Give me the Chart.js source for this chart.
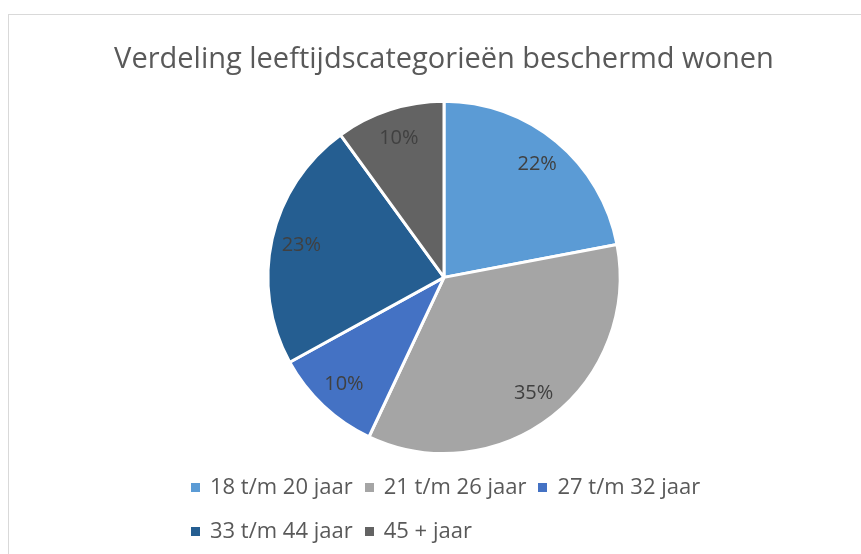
<!DOCTYPE html>
<html>
<head>
<meta charset="utf-8">
<script src="https://cdn.jsdelivr.net/npm/chart.js@4"></script>
<style>
  body { margin: 0; background: #fff; overflow: hidden; font-family: "Open Sans", sans-serif; }
  #kader { position: absolute; left: 8px; top: 14px; width: 900px; height: 600px; border: 1px solid #d9d9d9; }
  #grafiek { position: absolute; left: 0; top: 0; }
  #legenda { position: absolute; left: 191px; top: 463px; width: 570px; margin: 0; padding: 0;
             list-style: none; display: flex; flex-wrap: wrap; }
  #legenda li { line-height: 44px; font-size: 22px; color: #595959; margin-right: 12px; white-space: nowrap; }
  #legenda span { display: inline-block; width: 9px; height: 9px; margin-right: 10px; vertical-align: middle; position: relative; top: -1px; }
</style>
</head>
<body>
<div id="kader"></div>
<canvas id="grafiek" width="861" height="554"></canvas>
<ul id="legenda"></ul>
<script>
const categorieen = ['18 t/m 20 jaar', '21 t/m 26 jaar', '27 t/m 32 jaar', '33 t/m 44 jaar', '45 + jaar'];
const percentages = [22, 35, 10, 23, 10];
const kleuren = ['#5B9BD5', '#A5A5A5', '#4472C4', '#255E91', '#636363'];
const titel = 'Verdeling leeftijdscategorieën beschermd wonen';

// percentages in de taartpunten zetten
const labelsInPunten = {
    id: 'labelsInPunten',
    afterDatasetsDraw(chart) {
        const ctx = chart.ctx;
        const meta = chart.getDatasetMeta(0);
        ctx.save();
        ctx.font = '20px "Open Sans"';
        ctx.fillStyle = '#404040';
        ctx.textAlign = 'center';
        ctx.textBaseline = 'middle';
        meta.data.forEach(function (arc, i) {
            const p = arc.getProps(['x', 'y', 'startAngle', 'endAngle', 'outerRadius'], true);
            const midden = (p.startAngle + p.endAngle) / 2;
            const r = p.outerRadius * 0.83;
            ctx.fillText(chart.data.datasets[0].data[i] + '%', p.x + Math.cos(midden) * r, p.y + Math.sin(midden) * r);
        });
        ctx.restore();
    }
};

const ctx = document.getElementById('grafiek').getContext('2d');
const taart = new Chart(ctx, {
    type: 'pie',
    data: {
        labels: categorieen,
        datasets: [{
            data: percentages,
            backgroundColor: kleuren,
            borderColor: '#ffffff',
            borderWidth: 3
        }]
    },
    options: {
        responsive: false,
        animation: false,
        devicePixelRatio: 1,
        layout: {
            padding: { left: 27, right: 0, top: 0, bottom: 99 }
        },
        plugins: {
            legend: { display: false },
            tooltip: { enabled: false },
            title: {
                display: true,
                text: titel,
                color: '#595959',
                font: { family: 'Open Sans', size: 29, weight: 'normal' },
                padding: { top: 42, bottom: 23 }
            }
        }
    },
    plugins: [labelsInPunten]
});

//legenda in html, zelfde kleuren als de punten
const ul = document.getElementById('legenda');
categorieen.forEach(function (naam, i) {
    const li = document.createElement('li');
    const blokje = document.createElement('span');
    blokje.style.background = kleuren[i];
    li.appendChild(blokje);
    li.appendChild(document.createTextNode(naam));
    ul.appendChild(li);
});
</script>
</body>
</html>
